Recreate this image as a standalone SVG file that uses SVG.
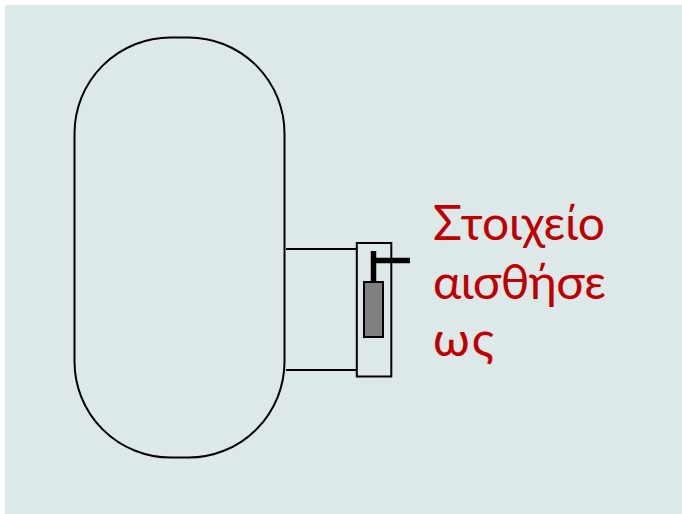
<svg xmlns="http://www.w3.org/2000/svg" width="682" height="514" viewBox="0 0 682 514">
<style>
.o{fill:none;stroke:#000;stroke-width:2}
.t{font-family:"Lato","Noto Sans","DejaVu Sans",sans-serif;font-size:48px;fill:#c00000}
</style>
<rect x="5" y="5" width="677" height="509" fill="#dde8e8"/>
<g id="tank"><rect class="o" x="74.500" y="37.500" width="210" height="420" rx="96" ry="96"/></g>
<g id="connectors">
<path class="o" d="M286 249H357M286 370H357"/>
</g>
<g id="housing"><rect class="o" x="356.800" y="243" width="34.500" height="133.500"/></g>
<g id="sensor">
<rect x="364" y="282" width="19" height="55" fill="#808080" stroke="#000" stroke-width="2"/>
<path d="M373.500 251V282M373.500 260.500H410" fill="none" stroke="#000" stroke-width="5.500"/>
</g>
<g id="label">
<text class="t" x="433" y="240" textLength="172">Στοιχείο</text>
<text class="t" x="433" y="298.500" textLength="173">αισθήσε</text>
<text class="t" x="433" y="356" textLength="61">ως</text>
</g>
</svg>
